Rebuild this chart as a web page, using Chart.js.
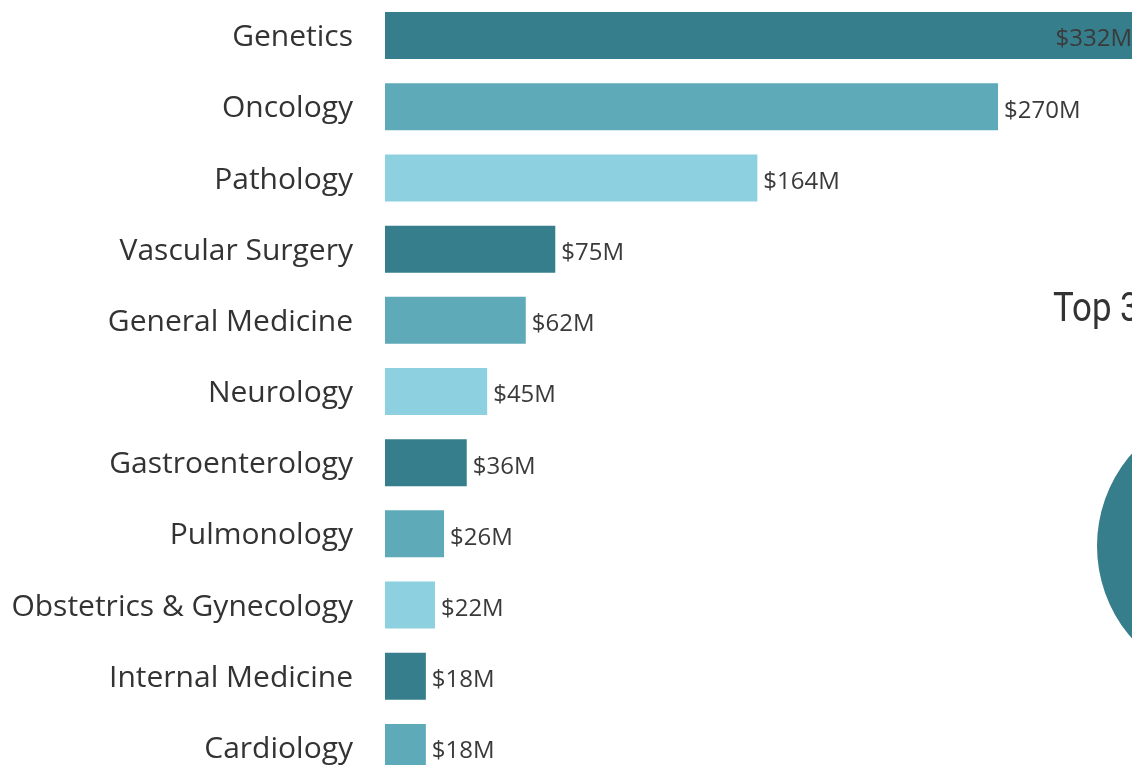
<!DOCTYPE html>
<html>
<head>
<meta charset="utf-8">
<script src="https://cdn.jsdelivr.net/npm/chart.js@4"></script>
<style>
  html, body { margin:0; padding:0; background:#ffffff; overflow:hidden; }
  #wrap { position:relative; width:1132px; height:765px; overflow:hidden; background:#fff; }
  #bar { position:absolute; left:0; top:0; }
  #pie { position:absolute; left:1087px; top:396px; }
  #title { position:absolute; left:1053px; top:288px; font-family:Roboto, sans-serif; font-size:40px; line-height:40px;
           color:#333333; transform:scaleX(0.87); transform-origin:left top; white-space:nowrap; }
</style>
</head>
<body>
<div id="wrap">
  <canvas id="bar" width="1132" height="783"></canvas>
  <div id="title">Top 3</div>
  <canvas id="pie" width="300" height="300"></canvas>
</div>
<script>
const categories = ["Genetics","Oncology","Pathology","Vascular Surgery","General Medicine","Neurology",
                    "Gastroenterology","Pulmonology","Obstetrics & Gynecology","Internal Medicine","Cardiology"];
const revenue = [332, 270, 164, 75, 62, 45, 36, 26, 22, 18, 18];
const barColors = ["#367e8b","#5eaab9","#8dd0df","#367e8b","#5eaab9","#8dd0df",
                   "#367e8b","#5eaab9","#8dd0df","#367e8b","#5eaab9"];
const top3Labels = ["Genetics","Oncology","Pathology"];
const top3Values = [332, 270, 164];
const top3Colors = ["#367e8b","#5eaab9","#8dd0df"];

const valueLabels = {
  id: 'valueLabels',
  afterDatasetsDraw(chart) {
    const ctx = chart.ctx;
    const area = chart.chartArea;
    const meta = chart.getDatasetMeta(0);
    ctx.save();
    ctx.font = '24px "Open Sans", sans-serif';
    ctx.fillStyle = '#3a3a3a';
    ctx.textBaseline = 'middle';
    meta.data.forEach((bar, i) => {
      const text = '$' + revenue[i] + 'M';
      const w = ctx.measureText(text).width;
      let x = bar.x + 6;
      if (x + w > area.right) {
        ctx.textAlign = 'right';
        x = area.right;
      } else {
        ctx.textAlign = 'left';
      }
      ctx.fillText(text, x, bar.y + 4);
    });
    ctx.restore();
  }
};

new Chart(document.getElementById('bar'), {
  type: 'bar',
  data: {
    labels: categories,
    datasets: [{
      data: revenue,
      backgroundColor: barColors,
      borderWidth: 0,
      barPercentage: 0.66,
      categoryPercentage: 1
    }]
  },
  options: {
    indexAxis: 'y',
    responsive: false,
    animation: false,
    layout: { padding: 0 },
    plugins: { legend: { display: false }, tooltip: { enabled: false } },
    scales: {
      x: { display: false, min: 0, max: 329 },
      y: {
        afterFit(scale) { scale.width = 385; scale.paddingTop = 0; scale.paddingBottom = 0; },
        grid: { display: false, drawTicks: false },
        border: { display: false },
        ticks: { padding: 32, labelOffset: 2, color: '#333333', font: { family: '"Open Sans", sans-serif', size: 30 } }
      }
    }
  },
  plugins: [valueLabels]
});

new Chart(document.getElementById('pie'), {
  type: 'pie',
  data: {
    labels: top3Labels,
    datasets: [{ data: top3Values, backgroundColor: top3Colors, borderWidth: 0 }]
  },
  options: {
    responsive: false,
    animation: false,
    rotation: 192,
    layout: { padding: 10 },
    plugins: { legend: { display: false }, tooltip: { enabled: false } }
  }
});
</script>
</body>
</html>
